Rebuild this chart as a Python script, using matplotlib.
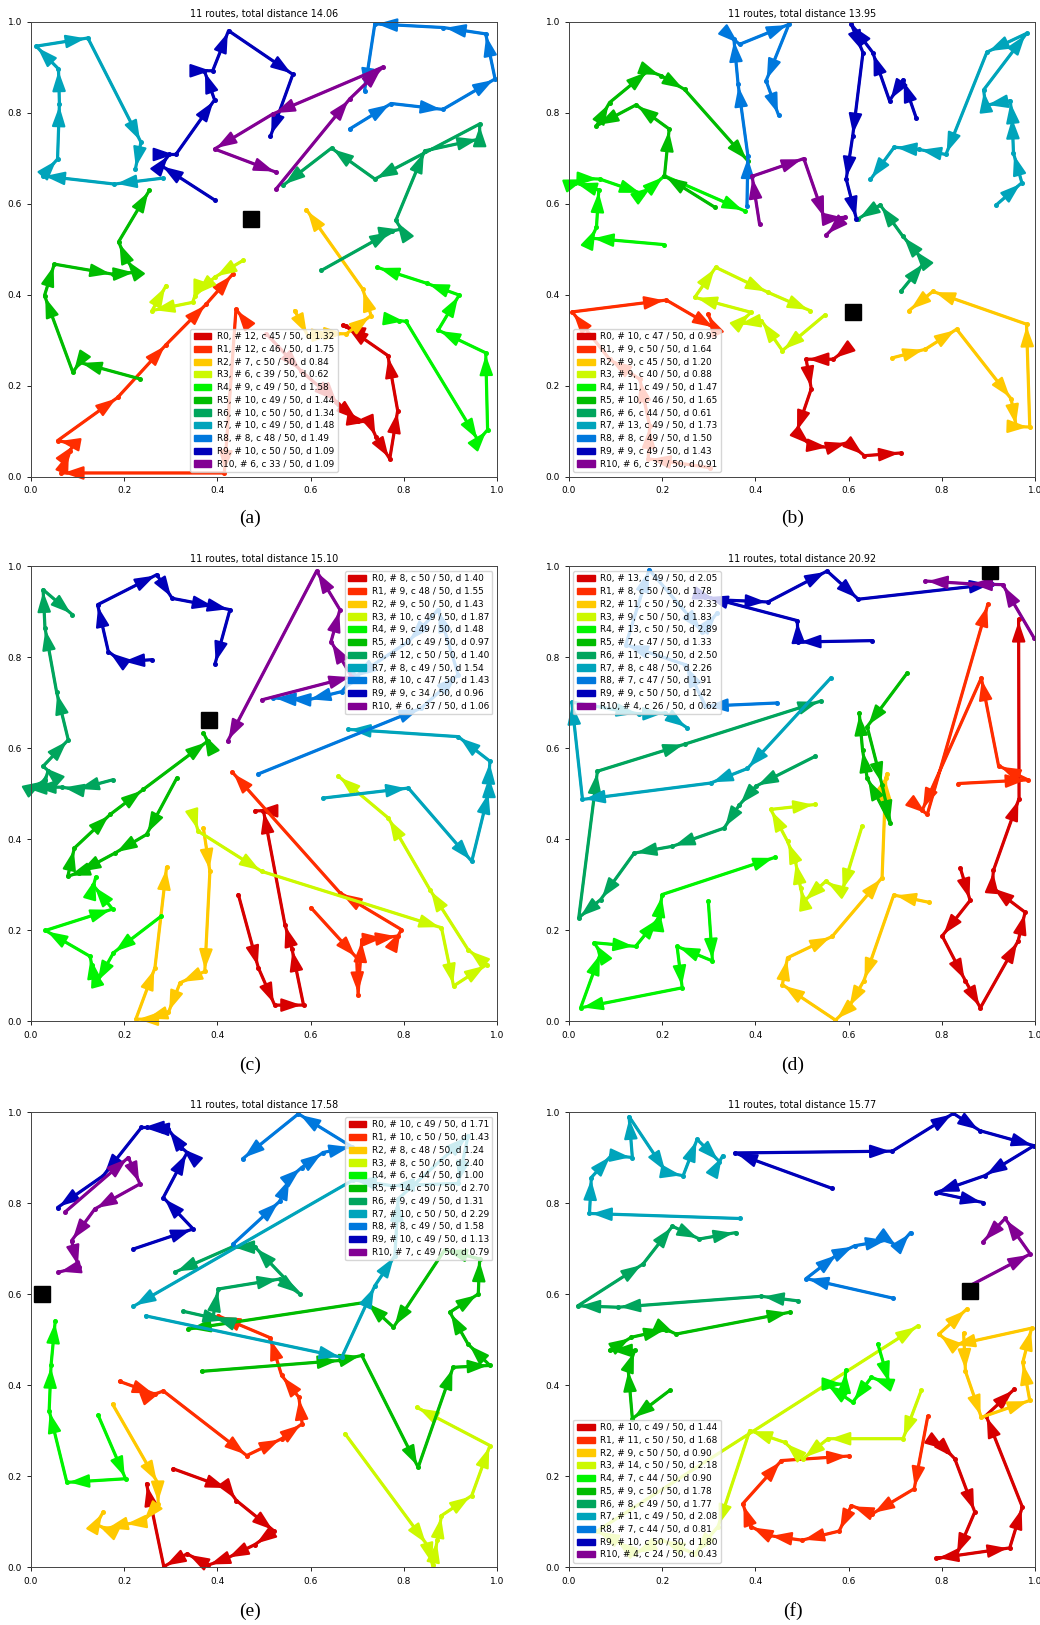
import numpy as np
import matplotlib
matplotlib.use("Agg")
import matplotlib.pyplot as plt
from matplotlib.patches import Patch

# ---- panel (a) ----
title_a = "11 routes, total distance 14.06"
depot_a = (0.473, 0.566)
nodes_a = [12, 12, 7, 6, 9, 10, 10, 10, 8, 10, 6]
load_a = [45, 46, 50, 39, 49, 49, 50, 49, 48, 50, 33]
dist_a = [1.32, 1.75, 0.84, 0.62, 1.58, 1.44, 1.34, 1.48, 1.49, 1.09, 1.09]
routes_a = [
    [(0.505, 0.314), (0.580, 0.232), (0.655, 0.165), (0.659, 0.160), (0.702, 0.123), (0.727, 0.119),
     (0.741, 0.086), (0.770, 0.039), (0.787, 0.145), (0.766, 0.266), (0.676, 0.330), (0.669, 0.333)],
    [(0.455, 0.348), (0.440, 0.368), (0.415, 0.008), (0.065, 0.008), (0.083, 0.057), (0.094, 0.072),
     (0.057, 0.079), (0.186, 0.174), (0.290, 0.290), (0.376, 0.379), (0.433, 0.445)],
    [(0.566, 0.365), (0.594, 0.310), (0.651, 0.314), (0.677, 0.314), (0.730, 0.354), (0.712, 0.412), (0.591, 0.587)],
    [(0.455, 0.475), (0.394, 0.438), (0.352, 0.398), (0.347, 0.383), (0.260, 0.365), (0.290, 0.420)],
    [(0.790, 0.343), (0.805, 0.341), (0.960, 0.079), (0.980, 0.103), (0.976, 0.272), (0.874, 0.322),
     (0.919, 0.399), (0.849, 0.425), (0.743, 0.460)],
    [(0.233, 0.215), (0.104, 0.251), (0.090, 0.229), (0.029, 0.398), (0.050, 0.467), (0.175, 0.445),
     (0.225, 0.449), (0.204, 0.478), (0.188, 0.516), (0.254, 0.629)],
    [(0.623, 0.453), (0.775, 0.540), (0.795, 0.544), (0.783, 0.563), (0.845, 0.716), (0.963, 0.742),
     (0.963, 0.775), (0.738, 0.654), (0.645, 0.722), (0.541, 0.640)],
    [(0.283, 0.656), (0.179, 0.643), (0.025, 0.661), (0.057, 0.698), (0.061, 0.819), (0.059, 0.896),
     (0.011, 0.946), (0.122, 0.964), (0.236, 0.735), (0.224, 0.676)],
    [(0.684, 0.764), (0.773, 0.820), (0.884, 0.807), (0.996, 0.874), (0.976, 0.973), (0.885, 0.987),
     (0.738, 0.995), (0.716, 0.848)],
    [(0.394, 0.608), (0.279, 0.684), (0.297, 0.708), (0.311, 0.708), (0.394, 0.828), (0.372, 0.892),
     (0.390, 0.892), (0.424, 0.980), (0.562, 0.884), (0.514, 0.748)],
    [(0.526, 0.632), (0.684, 0.830), (0.755, 0.900), (0.519, 0.797), (0.394, 0.720), (0.526, 0.669)],
]

# ---- panel (b) ----
title_b = "11 routes, total distance 13.95"
depot_b = (0.609, 0.362)
nodes_b = [10, 9, 9, 9, 11, 10, 6, 13, 8, 9, 6]
load_b = [47, 50, 45, 40, 49, 46, 44, 49, 49, 49, 37]
dist_b = [0.93, 1.64, 1.20, 0.88, 1.47, 1.65, 0.61, 1.73, 1.50, 1.43, 0.91]
routes_b = [
    [(0.601, 0.284), (0.567, 0.258), (0.509, 0.258), (0.520, 0.193), (0.488, 0.097), (0.520, 0.068),
     (0.559, 0.064), (0.599, 0.075), (0.634, 0.046), (0.713, 0.052)],
    [(0.302, 0.020), (0.170, 0.039), (0.173, 0.112), (0.152, 0.214), (0.087, 0.258), (0.007, 0.362),
     (0.209, 0.388), (0.313, 0.326), (0.298, 0.357)],
    [(0.694, 0.261), (0.765, 0.280), (0.832, 0.324), (0.949, 0.171), (0.960, 0.110), (0.989, 0.109),
     (0.982, 0.335), (0.781, 0.407), (0.730, 0.365)],
    [(0.549, 0.355), (0.458, 0.277), (0.413, 0.343), (0.363, 0.335), (0.391, 0.361), (0.270, 0.394),
     (0.315, 0.460), (0.427, 0.405), (0.517, 0.365)],
    [(0.203, 0.510), (0.048, 0.524), (0.059, 0.548), (0.064, 0.630), (0.012, 0.646), (0.037, 0.655),
     (0.066, 0.654), (0.157, 0.622), (0.180, 0.639), (0.205, 0.661), (0.377, 0.584)],
    [(0.313, 0.592), (0.205, 0.661), (0.215, 0.764), (0.144, 0.817), (0.059, 0.771), (0.087, 0.822),
     (0.170, 0.892), (0.198, 0.881), (0.248, 0.851), (0.384, 0.694)],
    [(0.713, 0.408), (0.763, 0.471), (0.740, 0.500), (0.716, 0.529), (0.668, 0.597), (0.620, 0.566)],
    [(0.917, 0.597), (0.972, 0.646), (0.954, 0.711), (0.951, 0.792), (0.947, 0.826), (0.894, 0.816),
     (0.890, 0.850), (0.982, 0.974), (0.897, 0.933), (0.809, 0.708), (0.751, 0.719), (0.698, 0.724),
     (0.647, 0.653)],
    [(0.382, 0.595), (0.384, 0.705), (0.363, 0.862), (0.354, 0.961), (0.366, 0.950), (0.472, 0.994),
     (0.423, 0.870), (0.450, 0.794)],
    [(0.745, 0.789), (0.717, 0.872), (0.688, 0.826), (0.652, 0.932), (0.606, 0.994), (0.631, 0.932),
     (0.609, 0.749), (0.595, 0.654), (0.617, 0.566)],
    [(0.409, 0.555), (0.393, 0.660), (0.504, 0.699), (0.549, 0.566), (0.592, 0.570), (0.552, 0.531)],
]

# ---- panel (c) ----
title_c = "11 routes, total distance 15.10"
depot_c = (0.381, 0.663)
nodes_c = [8, 9, 9, 10, 9, 10, 12, 8, 10, 9, 6]
load_c = [50, 48, 50, 49, 49, 49, 50, 49, 47, 34, 37]
dist_c = [1.40, 1.55, 1.43, 1.87, 1.48, 0.97, 1.40, 1.54, 1.43, 0.96, 1.06]
routes_c = [
    [(0.445, 0.279), (0.488, 0.118), (0.523, 0.036), (0.585, 0.036), (0.560, 0.160), (0.545, 0.213),
     (0.499, 0.463), (0.481, 0.463)],
    [(0.601, 0.250), (0.699, 0.140), (0.702, 0.059), (0.710, 0.180), (0.760, 0.184), (0.788, 0.188),
     (0.795, 0.202), (0.663, 0.283), (0.432, 0.548)],
    [(0.370, 0.425), (0.384, 0.330), (0.373, 0.110), (0.320, 0.085), (0.295, 0.020), (0.245, 0.005),
     (0.225, 0.005), (0.266, 0.118), (0.291, 0.339)],
    [(0.348, 0.455), (0.359, 0.418), (0.495, 0.330), (0.881, 0.206), (0.907, 0.078), (0.978, 0.125),
     (0.938, 0.158), (0.856, 0.290), (0.767, 0.447), (0.660, 0.539)],
    [(0.279, 0.231), (0.177, 0.151), (0.141, 0.085), (0.130, 0.125), (0.127, 0.143), (0.031, 0.200),
     (0.175, 0.247), (0.134, 0.299), (0.139, 0.317)],
    [(0.313, 0.535), (0.248, 0.411), (0.180, 0.370), (0.102, 0.327), (0.079, 0.319), (0.093, 0.381),
     (0.170, 0.455), (0.241, 0.510), (0.379, 0.616), (0.370, 0.634)],
    [(0.175, 0.531), (0.098, 0.510), (0.066, 0.515), (0.005, 0.515), (0.030, 0.530), (0.037, 0.551),
     (0.026, 0.561), (0.080, 0.619), (0.055, 0.724), (0.030, 0.865), (0.026, 0.949), (0.089, 0.894)],
    [(0.627, 0.491), (0.810, 0.513), (0.946, 0.352), (0.983, 0.506), (0.983, 0.542), (0.985, 0.572),
     (0.917, 0.626), (0.681, 0.642)],
    [(0.488, 0.544), (0.838, 0.689), (0.917, 0.762), (0.874, 0.905), (0.810, 0.835), (0.692, 0.755),
     (0.667, 0.725), (0.595, 0.707), (0.552, 0.709), (0.520, 0.711)],
    [(0.259, 0.795), (0.195, 0.791), (0.166, 0.813), (0.143, 0.916), (0.270, 0.982), (0.303, 0.930),
     (0.395, 0.912), (0.427, 0.905), (0.395, 0.786)],
    [(0.496, 0.707), (0.688, 0.758), (0.644, 0.835), (0.663, 0.905), (0.613, 0.990), (0.422, 0.616)],
]

# ---- panel (d) ----
title_d = "11 routes, total distance 20.92"
depot_d = (0.903, 0.989)
nodes_d = [13, 8, 11, 9, 13, 7, 11, 8, 7, 9, 4]
load_d = [49, 50, 50, 50, 50, 47, 50, 48, 47, 50, 26]
dist_d = [2.05, 1.78, 2.33, 1.83, 2.89, 1.33, 2.50, 2.26, 1.91, 1.42, 0.62]
routes_d = [
    [(0.840, 0.337), (0.861, 0.266), (0.801, 0.188), (0.851, 0.089), (0.883, 0.030), (0.964, 0.177),
     (0.979, 0.240), (0.908, 0.295), (0.911, 0.332), (0.966, 0.490), (0.965, 0.884)],
    [(0.836, 0.523), (0.985, 0.531), (0.922, 0.562), (0.885, 0.755), (0.758, 0.464), (0.769, 0.455),
     (0.899, 0.917)],
    [(0.772, 0.262), (0.697, 0.278), (0.633, 0.090), (0.600, 0.030), (0.572, 0.003), (0.458, 0.081),
     (0.469, 0.140), (0.565, 0.187), (0.672, 0.316), (0.680, 0.535), (0.683, 0.545)],
    [(0.629, 0.429), (0.586, 0.286), (0.551, 0.308), (0.504, 0.264), (0.497, 0.294), (0.486, 0.352),
     (0.469, 0.396), (0.433, 0.466), (0.529, 0.477)],
    [(0.299, 0.264), (0.308, 0.133), (0.232, 0.165), (0.243, 0.074), (0.025, 0.030), (0.068, 0.151),
     (0.054, 0.173), (0.143, 0.165), (0.193, 0.228), (0.195, 0.248), (0.200, 0.279), (0.443, 0.361)],
    [(0.726, 0.766), (0.640, 0.648), (0.672, 0.520), (0.690, 0.436), (0.640, 0.535), (0.630, 0.597),
     (0.623, 0.678)],
    [(0.529, 0.583), (0.401, 0.517), (0.365, 0.475), (0.333, 0.425), (0.222, 0.385), (0.140, 0.370),
     (0.068, 0.268), (0.021, 0.228), (0.061, 0.550), (0.250, 0.610), (0.540, 0.704)],
    [(0.562, 0.755), (0.383, 0.556), (0.304, 0.524), (0.029, 0.488), (0.006, 0.702), (0.150, 0.676),
     (0.207, 0.678), (0.254, 0.645)],
    [(0.447, 0.700), (0.293, 0.693), (0.250, 0.784), (0.122, 0.828), (0.172, 0.993), (0.286, 0.857),
     (0.318, 0.898)],
    [(0.651, 0.837), (0.492, 0.834), (0.490, 0.881), (0.293, 0.934), (0.315, 0.927), (0.427, 0.922),
     (0.554, 0.990), (0.621, 0.928), (0.908, 0.961)],
    [(0.998, 0.843), (0.931, 0.960), (0.860, 0.962), (0.765, 0.968)],
]

# ---- panel (e) ----
title_e = "11 routes, total distance 17.58"
depot_e = (0.024, 0.601)
nodes_e = [10, 10, 8, 8, 6, 14, 9, 10, 8, 10, 7]
load_e = [49, 50, 48, 50, 44, 50, 49, 50, 49, 49, 49]
dist_e = [1.71, 1.43, 1.24, 2.40, 1.00, 2.70, 1.31, 2.29, 1.58, 1.13, 0.79]
routes_e = [
    [(0.305, 0.217), (0.423, 0.173), (0.441, 0.147), (0.522, 0.080), (0.480, 0.050), (0.420, 0.020),
     (0.380, 0.005), (0.335, 0.030), (0.285, 0.002), (0.248, 0.184)],
    [(0.190, 0.409), (0.266, 0.381), (0.284, 0.388), (0.463, 0.246), (0.538, 0.283), (0.582, 0.316),
     (0.575, 0.374), (0.538, 0.422), (0.513, 0.505), (0.402, 0.553)],
    [(0.175, 0.359), (0.272, 0.186), (0.273, 0.140), (0.240, 0.100), (0.200, 0.095), (0.160, 0.085),
     (0.140, 0.095), (0.155, 0.122)],
    [(0.674, 0.294), (0.850, 0.050), (0.862, 0.005), (0.872, 0.060), (0.881, 0.114), (0.946, 0.158),
     (0.985, 0.268), (0.828, 0.352)],
    [(0.144, 0.335), (0.203, 0.195), (0.077, 0.187), (0.039, 0.345), (0.043, 0.444), (0.052, 0.542)],
    [(0.366, 0.431), (0.663, 0.455), (0.710, 0.466), (0.831, 0.220), (0.906, 0.440), (0.985, 0.444),
     (0.938, 0.491), (0.899, 0.561), (0.960, 0.601), (0.963, 0.678), (0.888, 0.698), (0.778, 0.528),
     (0.720, 0.583), (0.338, 0.524)],
    [(0.327, 0.563), (0.418, 0.542), (0.391, 0.552), (0.402, 0.612), (0.534, 0.634), (0.577, 0.601),
     (0.481, 0.704), (0.431, 0.704), (0.309, 0.649)],
    [(0.246, 0.553), (0.667, 0.462), (0.738, 0.619), (0.781, 0.685), (0.788, 0.810), (0.938, 0.949),
     (0.917, 0.844), (0.774, 0.839), (0.692, 0.852), (0.220, 0.574)],
    [(0.434, 0.711), (0.534, 0.805), (0.556, 0.857), (0.581, 0.879), (0.627, 0.912), (0.688, 0.925),
     (0.574, 0.997), (0.454, 0.898)],
    [(0.220, 0.700), (0.348, 0.744), (0.284, 0.813), (0.335, 0.912), (0.323, 0.923), (0.295, 0.963),
     (0.248, 0.967), (0.237, 0.967), (0.155, 0.861), (0.057, 0.791)],
    [(0.074, 0.782), (0.209, 0.901), (0.234, 0.843), (0.137, 0.788), (0.087, 0.718), (0.102, 0.660),
     (0.059, 0.649)],
]

# ---- panel (f) ----
title_f = "11 routes, total distance 15.77"
depot_f = (0.860, 0.608)
nodes_f = [10, 11, 9, 14, 7, 9, 8, 11, 7, 10, 4]
load_f = [49, 50, 50, 50, 44, 50, 49, 49, 44, 50, 24]
dist_f = [1.44, 1.68, 0.90, 2.18, 0.90, 1.78, 1.77, 2.08, 0.81, 1.80, 0.43]
routes_f = [
    [(0.801, 0.264), (0.811, 0.257), (0.828, 0.239), (0.871, 0.122), (0.831, 0.026), (0.788, 0.020),
     (0.946, 0.043), (0.973, 0.133), (0.895, 0.334), (0.956, 0.392)],
    [(0.770, 0.332), (0.741, 0.173), (0.651, 0.118), (0.606, 0.136), (0.580, 0.080), (0.500, 0.060),
     (0.430, 0.070), (0.390, 0.090), (0.373, 0.140), (0.456, 0.235), (0.602, 0.245)],
    [(0.847, 0.515), (0.851, 0.431), (0.885, 0.330), (0.989, 0.367), (0.974, 0.451), (0.993, 0.526),
     (0.824, 0.488), (0.794, 0.513), (0.854, 0.568)],
    [(0.756, 0.389), (0.717, 0.283), (0.556, 0.283), (0.502, 0.239), (0.463, 0.275), (0.388, 0.301),
     (0.320, 0.090), (0.270, 0.030), (0.200, 0.060), (0.140, 0.030), (0.100, 0.060), (0.060, 0.080),
     (0.749, 0.531)],
    [(0.663, 0.491), (0.688, 0.403), (0.649, 0.418), (0.609, 0.363), (0.552, 0.403), (0.592, 0.403),
     (0.594, 0.433)],
    [(0.216, 0.389), (0.136, 0.327), (0.127, 0.436), (0.141, 0.477), (0.087, 0.477), (0.134, 0.506),
     (0.209, 0.523), (0.230, 0.513), (0.474, 0.561)],
    [(0.491, 0.586), (0.413, 0.596), (0.105, 0.572), (0.019, 0.575), (0.159, 0.667), (0.222, 0.750),
     (0.280, 0.722), (0.358, 0.736)],
    [(0.366, 0.767), (0.044, 0.778), (0.048, 0.857), (0.091, 0.906), (0.136, 0.901), (0.129, 0.991),
     (0.209, 0.868), (0.245, 0.861), (0.275, 0.941), (0.323, 0.892), (0.330, 0.905)],
    [(0.695, 0.592), (0.509, 0.635), (0.577, 0.689), (0.613, 0.707), (0.685, 0.720), (0.706, 0.704),
     (0.733, 0.736)],
    [(0.565, 0.833), (0.356, 0.911), (0.694, 0.915), (0.825, 0.998), (0.882, 0.960), (0.998, 0.927),
     (0.892, 0.861), (0.788, 0.824), (0.889, 0.802)],
    [(0.858, 0.618), (0.990, 0.689), (0.936, 0.767), (0.889, 0.716)],
]

# route colours, R0 (red) ... R10 (purple)
colors = plt.cm.nipy_spectral(np.arange(11, 0, -1) / 12)


def draw_panel(ax, routes, depot, nodes, load, dist, title, loc):
    for i, pts in enumerate(routes):
        c = colors[i]
        xs = [p[0] for p in pts]
        ys = [p[1] for p in pts]
        ax.plot(xs, ys, color=c, lw=2.3, solid_capstyle='round', zorder=2)
        ax.plot(xs, ys, 'o', color=c, ms=2.6, zorder=2)
        for p0, p1 in zip(pts[:-1], pts[1:]):
            ax.annotate('', xy=p1, xytext=p0,
                        arrowprops=dict(arrowstyle='-|>,head_length=0.8,head_width=0.27',
                                        color=c, lw=1.6, shrinkA=0, shrinkB=1.5,
                                        mutation_scale=15),
                        zorder=2)
    ax.plot(depot[0], depot[1], 's', color='black', ms=12, zorder=3)

    handles = []
    for i in range(len(routes)):
        lbl = f"R{i}, # {nodes[i]}, c {load[i]} / 50, d {dist[i]:.2f}"
        handles.append(Patch(color=colors[i], label=lbl))
    ax.legend(handles=handles, loc=loc, fontsize=6.4, labelspacing=0.42,
              handlelength=2.0, handletextpad=0.6, borderpad=0.4)

    ax.set_xlim(0, 1)
    ax.set_ylim(0, 1)
    ax.set_xticks(np.arange(0, 1.01, 0.2))
    ax.set_yticks(np.arange(0, 1.01, 0.2))
    ax.tick_params(labelsize=6.5, length=3, width=0.6)
    for s in ax.spines.values():
        s.set_linewidth(0.7)
        s.set_color('#444444')
    ax.set_title(title, fontsize=6.9, pad=3)


fig = plt.figure(figsize=(10.4, 16.25), dpi=100)

col_left = [0.0298, 0.5471]
row_bottom = [0.7067, 0.3714, 0.0354]
w, h = 0.448, 0.2800

panels = [
    (routes_a, depot_a, nodes_a, load_a, dist_a, title_a, 'lower center', 0, 0, '(a)'),
    (routes_b, depot_b, nodes_b, load_b, dist_b, title_b, 'lower left', 0, 1, '(b)'),
    (routes_c, depot_c, nodes_c, load_c, dist_c, title_c, 'upper right', 1, 0, '(c)'),
    (routes_d, depot_d, nodes_d, load_d, dist_d, title_d, 'upper left', 1, 1, '(d)'),
    (routes_e, depot_e, nodes_e, load_e, dist_e, title_e, 'upper right', 2, 0, '(e)'),
    (routes_f, depot_f, nodes_f, load_f, dist_f, title_f, 'lower left', 2, 1, '(f)'),
]

caption_y = [0.681, 0.3446, 0.0086]
caption_x = [0.240, 0.762]

for routes, depot, nodes, load, dist, title, loc, r, c, cap in panels:
    ax = fig.add_axes([col_left[c], row_bottom[r], w, h])
    draw_panel(ax, routes, depot, nodes, load, dist, title, loc)
    fig.text(caption_x[c], caption_y[r], cap, ha='center', va='center',
             family='Liberation Serif', fontsize=14)

fig.savefig("out.png", dpi=100)
